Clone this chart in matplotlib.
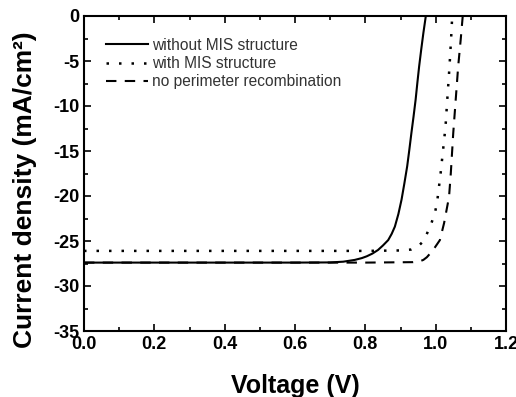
import matplotlib
matplotlib.use("Agg")
import matplotlib.pyplot as plt
from matplotlib.ticker import MultipleLocator

plt.rcParams['font.family'] = ['Liberation Sans', 'DejaVu Sans']
plt.rcParams['axes.unicode_minus'] = False

v_without = [0.0, 0.2, 0.4, 0.6, 0.70, 0.737, 0.77, 0.79, 0.804, 0.82, 0.836, 0.85, 0.865, 0.875, 0.884, 0.894, 0.903, 0.911, 0.919, 0.925, 0.931, 0.937, 0.943, 0.948, 0.953, 0.959, 0.965, 0.972]
j_without = [-27.4, -27.4, -27.4, -27.4, -27.38, -27.3, -27.1, -26.9, -26.7, -26.4, -26.0, -25.5, -24.9, -24.2, -23.4, -22.0, -20.4, -18.6, -16.7, -14.9, -13.0, -11.2, -9.3, -7.4, -5.6, -3.7, -1.9, 0.0]

v_with = [0.0, 0.2, 0.4, 0.6, 0.8, 0.9, 0.93, 0.95, 0.963, 0.974, 0.988, 0.998, 1.005, 1.014, 1.021, 1.028, 1.033, 1.038, 1.041, 1.045, 1.047]
j_with = [-26.1, -26.1, -26.1, -26.1, -26.1, -26.05, -25.95, -25.6, -25.1, -24.3, -23.0, -21.9, -20.4, -17.5, -14.9, -12.3, -9.3, -6.4, -4.5, -1.7, 0.0]

v_noperim = [0.0, 0.2, 0.4, 0.6, 0.8, 0.936, 0.955, 0.965, 0.975, 0.984, 0.998, 1.012, 1.024, 1.038, 1.043, 1.05, 1.057, 1.064, 1.071, 1.077]
j_noperim = [-27.4, -27.4, -27.4, -27.4, -27.4, -27.35, -27.25, -27.1, -26.8, -26.4, -25.7, -24.9, -23.0, -20.1, -17.5, -13.0, -9.3, -5.6, -2.7, 0.0]

labels = ["without MIS structure", "with MIS structure", "no perimeter recombination"]

fig = plt.figure(figsize=(5.16, 3.97), dpi=100)
ax = fig.add_axes([84/516, 1 - 331/397, (506-84)/516, (331-16)/397])

ax.plot(v_without, j_without, color='black', lw=1.5, ls='-', label=labels[0])
ax.plot(v_with, j_with, color='black', lw=1.8, ls=(0, (1, 4)), label=labels[1])
ax.plot(v_noperim, j_noperim, color='black', lw=1.5, ls=(0, (5, 4)), label=labels[2])

ax.set_xlim(0, 1.2)
ax.set_ylim(-35, 0)
ax.xaxis.set_major_locator(MultipleLocator(0.2))
ax.xaxis.set_minor_locator(MultipleLocator(0.1))
ax.yaxis.set_major_locator(MultipleLocator(5))
ax.yaxis.set_minor_locator(MultipleLocator(2.5))
ax.tick_params(which='both', direction='in', top=True, right=True, width=1.2)
ax.tick_params(which='major', length=5, labelsize=13)
ax.tick_params(which='minor', length=3)
for lbl in ax.get_xticklabels() + ax.get_yticklabels():
    lbl.set_fontweight('bold')
for s in ax.spines.values():
    s.set_linewidth(1.5)

ax.set_xlabel("Voltage (V)", fontsize=18, fontweight='bold', labelpad=15)
ax.set_ylabel("Current density (mA/cm²)", fontsize=19, fontweight='bold')
ax.yaxis.set_label_coords(-0.111, 0.449)

leg = ax.legend(loc='upper left', bbox_to_anchor=(0.02, 0.975), frameon=False, fontsize=11.2,
                handlelength=2.7, handletextpad=0.2, labelspacing=0.2)
for t in leg.get_texts():
    t.set_color('#333333')

fig.savefig("out.png", dpi=100)
